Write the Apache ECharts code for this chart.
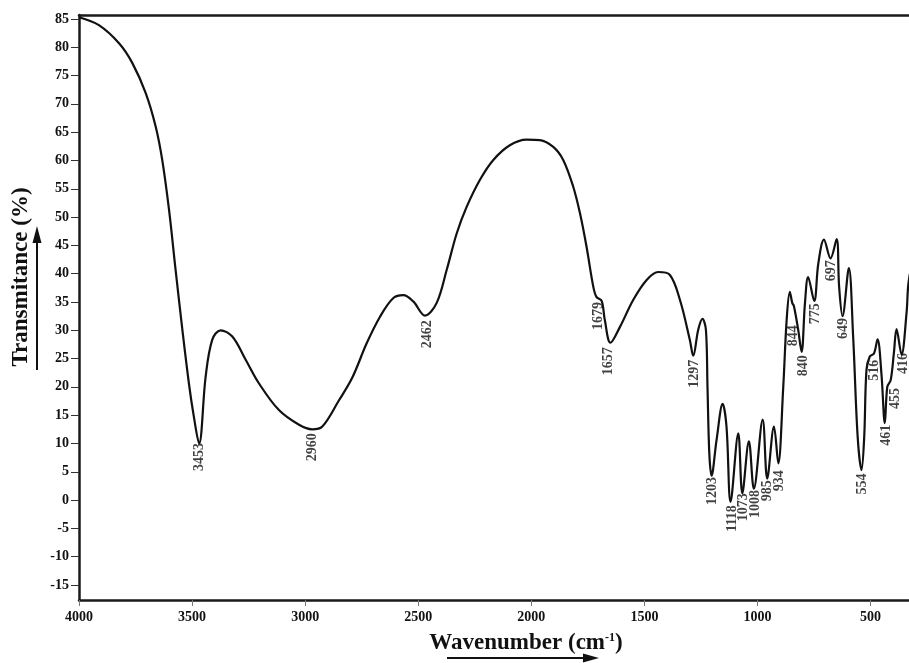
<!DOCTYPE html>
<html>
<head>
<meta charset="utf-8">
<script src="https://cdn.jsdelivr.net/npm/echarts@6/dist/echarts.min.js"></script>
<style>
html,body{margin:0;padding:0;background:#fff;}
#chart{width:909px;height:663px;}
</style>
</head>
<body>
<div id="chart"></div>
<script>
// Spectrum: wavenumber (cm-1) and transmittance (%)
const wavenumbers = [4000,3912,3823,3764,3705,3661,3632,3602,3573,3543,3514,3492,3469,3440,3411,3374,3322,3263,3204,3116,3027,2969,2924,2851,2792,2728,2669,2610,2566,2522,2470,2419,2374,2330,2286,2227,2168,2095,2021,1962,1903,1859,1815,1785,1756,1726,1712,1689,1675,1650,1608,1549,1490,1439,1388,1343,1299,1284,1262,1243,1228,1221,1213,1203,1181,1154,1137,1119,1085,1067,1038,1016,977,957,927,908,886,871,857,846,839,820,805,790,776,749,731,706,677,650,639,624,596,577,557,540,528,518,503,485,469,452,437,426,411,397,385,363,341,334,326];
const transmittance = [85.3,83.9,80.7,77.2,71.9,66.0,60.1,51.3,40.7,30.1,20.6,14.7,10.0,21.8,28.3,30.0,28.9,24.8,20.6,15.9,13.3,12.5,13.0,17.6,21.6,27.7,32.4,35.7,36.2,35.1,32.6,34.8,40.7,47.1,51.8,56.6,60.1,62.7,63.7,63.6,62.4,60.1,55.4,50.7,44.8,37.7,35.9,35.2,31.8,27.8,30.6,35.4,38.9,40.3,39.8,35.4,28.3,25.5,30.1,32.0,30.1,20.0,8.3,4.3,10.6,17.0,13.0,-0.3,11.8,1.2,10.4,2.0,14.2,3.8,13.0,6.5,20.0,31.8,36.8,34.8,34.3,30.1,26.2,34.8,39.4,35.2,41.8,46.0,42.7,46.1,37.7,32.5,41.0,28.9,11.2,5.3,11.2,23.0,25.4,25.9,28.4,22.4,13.6,20.0,21.2,25.9,30.2,25.7,33.0,37.7,40.0];

// Peak annotations: text, and the point (wavenumber, transmittance) at the top of each label
const peakTexts = ['3453','2960','2462','1679','1657','1297','1203','1118','1073','1008','985','934','844','840','775','697','649','554','516','461','455','416'];
const peakX = [3469,2970,2461,1705,1657,1277,1201,1113,1064,1011,954,905,843,799,746,671,622,538,485,432,388,357];
const peakY = [10.1,11.8,31.8,35.0,27.0,24.8,4.1,-0.9,1.2,1.8,3.5,5.3,30.9,25.6,34.8,42.4,32.2,4.7,24.8,13.3,19.8,26.0];

// Axis ticks
const xTicks = [4000,3500,3000,2500,2000,1500,1000,500];
const yTicks = [-15,-10,-5,0,5,10,15,20,25,30,35,40,45,50,55,60,65,70,75,80,85];

const serif = '"Liberation Serif", "Times New Roman", serif';
const chart = echarts.init(document.getElementById('chart'), null, {renderer: 'canvas'});

const lineData = wavenumbers.map((w, i) => [w, transmittance[i]]);
const labelData = peakTexts.map((t, i) => ({value: [peakX[i], peakY[i]], name: t}));

const option = {
  animation: false,
  backgroundColor: '#ffffff',
  grid: {left: 79, top: 15, right: 0, bottom: 63, containLabel: false},
  xAxis: [{
    type: 'value', min: 330, max: 4000, inverse: true, position: 'bottom',
    splitLine: {show: false},
    axisLine: {show: true, onZero: false, lineStyle: {color: '#1a1a1a', width: 2.5}},
    axisTick: {show: true, customValues: xTicks, length: 6, lineStyle: {color: '#777', width: 1}},
    axisLabel: {customValues: xTicks, margin: 10, color: '#111', fontFamily: serif, fontWeight: 'bold', fontSize: 14,
      formatter: v => String(v)}
  }, {
    type: 'value', min: 330, max: 4000, inverse: true, position: 'top',
    splitLine: {show: false},
    axisLine: {show: true, onZero: false, lineStyle: {color: '#1a1a1a', width: 2.5}},
    axisTick: {show: false}, axisLabel: {show: false}
  }],
  yAxis: {
    type: 'value', min: -17.65, max: 85.7,
    splitLine: {show: false},
    axisLine: {show: true, onZero: false, lineStyle: {color: '#1a1a1a', width: 2.5}},
    axisTick: {show: true, customValues: yTicks, length: 8, lineStyle: {color: '#333', width: 1}},
    axisLabel: {customValues: yTicks, margin: 10, color: '#111', fontFamily: serif, fontWeight: 'bold', fontSize: 14,
      formatter: v => String(v)}
  },
  series: [{
    type: 'line',
    data: lineData,
    xAxisIndex: 0,
    showSymbol: false,
    smooth: 0.35,
    lineStyle: {color: '#111', width: 2.2},
    z: 3
  }, {
    type: 'scatter',
    data: labelData,
    xAxisIndex: 0,
    symbolSize: 0.1,
    itemStyle: {color: 'rgba(0,0,0,0)'},
    label: {
      show: true,
      formatter: p => p.name,
      position: 'bottom',
      distance: 0,
      rotate: 90,
      align: 'right',
      verticalAlign: 'middle',
      color: '#111',
      fontFamily: serif,
      fontWeight: 'bold',
      fontSize: 14
    },
    z: 4
  }],
  graphic: [
    {type: 'text', x: 21, y: 277, rotation: Math.PI / 2,
     style: {text: 'Transmitance (%)', fill: '#111', fontFamily: serif, fontWeight: 'bold', fontSize: 23, align: 'center', verticalAlign: 'middle'}},
    {type: 'line', shape: {x1: 37, y1: 370, x2: 37, y2: 240}, style: {stroke: '#111', lineWidth: 2}},
    {type: 'polygon', shape: {points: [[37, 226], [32.5, 243], [41.5, 243]]}, style: {fill: '#111'}},
    {type: 'text', x: 526, y: 643,
     style: {text: 'Wavenumber (cm{sup|-1})', fill: '#111', fontFamily: serif, fontWeight: 'bold', fontSize: 23, align: 'center', verticalAlign: 'middle',
       rich: {sup: {fontFamily: serif, fontWeight: 'bold', fontSize: 12, fill: '#111', verticalAlign: 'top', padding: [0, 0, 10, 0]}}}},
    {type: 'line', shape: {x1: 447, y1: 658, x2: 585, y2: 658}, style: {stroke: '#111', lineWidth: 2}},
    {type: 'polygon', shape: {points: [[599, 658], [583, 653.5], [583, 662.5]]}, style: {fill: '#111'}}
  ]
};
chart.setOption(option);
</script>
</body>
</html>
